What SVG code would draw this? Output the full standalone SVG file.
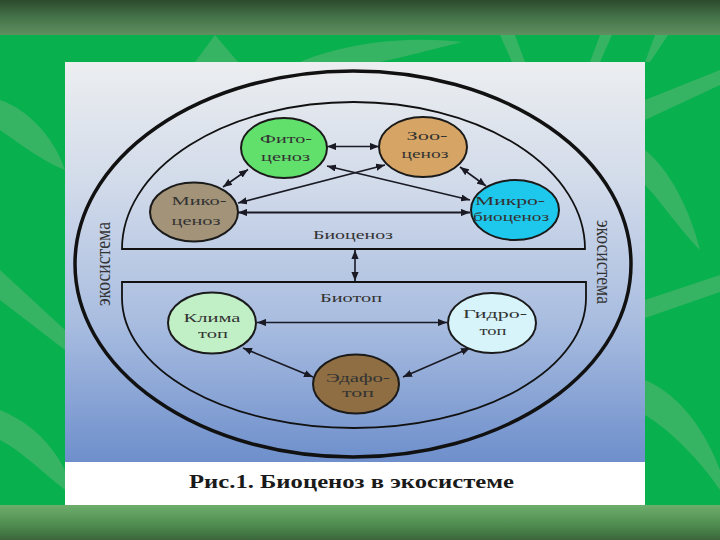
<svg xmlns="http://www.w3.org/2000/svg" width="720" height="540" viewBox="0 0 720 540">
<defs>
  <linearGradient id="topband" x1="0" y1="0" x2="0" y2="1">
    <stop offset="0" stop-color="#2c4a2c"/>
    <stop offset="0.5" stop-color="#46744a"/>
    <stop offset="1" stop-color="#5f8f60"/>
  </linearGradient>
  <linearGradient id="botband" x1="0" y1="0" x2="0" y2="1">
    <stop offset="0" stop-color="#6cae6c"/>
    <stop offset="0.6" stop-color="#4e8a4e"/>
    <stop offset="1" stop-color="#3a663a"/>
  </linearGradient>
  <linearGradient id="panel" x1="0" y1="62" x2="0" y2="462" gradientUnits="userSpaceOnUse">
    <stop offset="0" stop-color="#eceef0"/>
    <stop offset="0.3" stop-color="#d2dbea"/>
    <stop offset="0.65" stop-color="#a9bde0"/>
    <stop offset="1" stop-color="#6e8fcc"/>
  </linearGradient>
  <marker id="ah" viewBox="0 0 10 8" refX="10" refY="4" markerWidth="9" markerHeight="7.2" markerUnits="userSpaceOnUse" orient="auto-start-reverse">
    <path d="M0,0 L10,4 L0,8 z" fill="#1a1a24"/>
  </marker>
</defs>
<style>
  .leaf { fill:#8cbc8c; opacity:0.35; }
  .frame { fill:none; stroke:#111; }
  .node ellipse { stroke:#1a1a1a; stroke-width:2; }
  .lbl { font-family:"Liberation Serif","Times New Roman",serif; font-size:13px; fill:#333; text-anchor:middle; }
  .eco { font-family:"Liberation Serif","Times New Roman",serif; font-size:21px; fill:#333; text-anchor:middle; }
  .conn line { stroke:#1a1a24; stroke-width:1.6; marker-start:url(#ah); marker-end:url(#ah); }
</style>

<!-- background -->
<rect x="0" y="0" width="720" height="540" fill="#08b04e"/>
<g id="leaves">
  <path class="leaf" d="M0,100 C30,110 55,140 65,170 C40,160 15,140 0,130 Z"/>
  <path class="leaf" d="M0,270 L65,330 L65,350 L0,300 Z"/>
  <path class="leaf" d="M0,410 C25,420 50,440 65,470 L65,490 C40,470 20,450 0,440 Z"/>
  <path class="leaf" d="M195,62 L215,35 L238,62 Z"/>
  <path class="leaf" d="M300,62 C340,45 400,35 462,42 C430,50 400,58 380,62 Z"/>
  <path class="leaf" d="M500,35 L515,35 L525,62 L512,62 Z"/>
  <path class="leaf" d="M600,35 L612,35 L600,62 L590,62 Z"/>
  <path class="leaf" d="M655,35 L668,35 L650,62 L645,62 Z"/>
  <path class="leaf" d="M645,100 L720,70 L720,85 L645,120 Z"/>
  <path class="leaf" d="M645,150 C670,170 690,210 700,250 C680,230 660,200 645,185 Z"/>
  <path class="leaf" d="M645,300 L720,275 L720,292 L645,318 Z"/>
  <path class="leaf" d="M645,380 C680,395 705,430 720,470 L720,490 C700,460 670,430 645,415 Z"/>
</g>
<rect x="0" y="0" width="720" height="35" fill="url(#topband)"/>
<rect x="0" y="505" width="720" height="35" fill="url(#botband)"/>

<!-- picture panel -->
<rect x="65" y="62" width="580" height="400" fill="url(#panel)"/>
<rect x="65" y="462" width="580" height="43" fill="#ffffff"/>

<!-- frames -->
<ellipse class="frame" cx="353" cy="264" rx="278" ry="193" stroke-width="3.5"/>
<path class="frame" d="M122,249 A231.5,147 0 0 1 585,249 Z" stroke-width="1.8"/>
<path class="frame" d="M122,282 L586,282 L586,298 A232,130 0 0 1 122,298 Z" stroke-width="1.8"/>

<text class="lbl" x="353" y="239" textLength="80" lengthAdjust="spacingAndGlyphs">Биоценоз</text>
<text class="lbl" x="351" y="302" textLength="62" lengthAdjust="spacingAndGlyphs">Биотоп</text>
<text class="eco" transform="translate(110,264) rotate(-90)" x="0" y="0" textLength="84" lengthAdjust="spacingAndGlyphs">экосистема</text>
<text class="eco" transform="translate(597,262) rotate(90)" x="0" y="0" textLength="84" lengthAdjust="spacingAndGlyphs">экосистема</text>

<!-- connectors -->
<g id="connectors" class="conn">
  <line x1="327" y1="146.5" x2="379" y2="146.5"/>
  <line x1="248" y1="169.5" x2="223" y2="187"/>
  <line x1="327" y1="166" x2="470" y2="200"/>
  <line x1="385" y1="165" x2="238" y2="203"/>
  <line x1="460" y1="167" x2="486" y2="186"/>
  <line x1="238" y1="212.5" x2="470" y2="212.5" style="stroke-width:2.2"/>
  <line x1="355" y1="250" x2="355" y2="281"/>
  <line x1="257" y1="322.5" x2="447" y2="322.5"/>
  <line x1="243" y1="348" x2="313" y2="377"/>
  <line x1="470" y1="348" x2="403" y2="377"/>
</g>

<!-- nodes -->
<g id="fitocenoz" class="node">
  <ellipse cx="284" cy="148" rx="43" ry="30" fill="#62e06c"/>
  <text class="lbl" x="286" y="143" textLength="52" lengthAdjust="spacingAndGlyphs">Фито-</text>
  <text class="lbl" x="285.5" y="160.5" textLength="49" lengthAdjust="spacingAndGlyphs">ценоз</text>
</g>
<g id="zoocenoz" class="node">
  <ellipse cx="423" cy="147" rx="44" ry="30" fill="#d6a464"/>
  <text class="lbl" x="427" y="140" textLength="41" lengthAdjust="spacingAndGlyphs">Зоо-</text>
  <text class="lbl" x="425" y="158" textLength="47" lengthAdjust="spacingAndGlyphs">ценоз</text>
</g>
<g id="mikocenoz" class="node">
  <ellipse cx="194" cy="212" rx="44" ry="29.5" fill="#a39379"/>
  <text class="lbl" x="199" y="205" textLength="55" lengthAdjust="spacingAndGlyphs">Мико-</text>
  <text class="lbl" x="196" y="225" textLength="49" lengthAdjust="spacingAndGlyphs">ценоз</text>
</g>
<g id="mikrobiocenoz" class="node">
  <ellipse cx="515" cy="210" rx="44" ry="30" fill="#1ec8ec"/>
  <text class="lbl" x="510" y="205" textLength="70" lengthAdjust="spacingAndGlyphs">Микро-</text>
  <text class="lbl" x="511" y="221" textLength="76" lengthAdjust="spacingAndGlyphs">биоценоз</text>
</g>
<g id="klimatop" class="node">
  <ellipse cx="212" cy="323" rx="44" ry="30.5" fill="#c2f0c6"/>
  <text class="lbl" x="212" y="322" textLength="57" lengthAdjust="spacingAndGlyphs">Клима</text>
  <text class="lbl" x="213" y="338" textLength="30" lengthAdjust="spacingAndGlyphs">топ</text>
</g>
<g id="gidrotop" class="node">
  <ellipse cx="492" cy="323" rx="44" ry="30" fill="#d6f4fa"/>
  <text class="lbl" x="495" y="318" textLength="64" lengthAdjust="spacingAndGlyphs">Гидро-</text>
  <text class="lbl" x="493" y="335" textLength="27" lengthAdjust="spacingAndGlyphs">топ</text>
</g>
<g id="edafotop" class="node">
  <ellipse cx="356" cy="384" rx="43" ry="29.5" fill="#8e6e42"/>
  <text class="lbl" x="358" y="382" textLength="64" lengthAdjust="spacingAndGlyphs">Эдафо-</text>
  <text class="lbl" x="358" y="397" textLength="32" lengthAdjust="spacingAndGlyphs">топ</text>
</g>

<!-- caption -->
<text x="351.5" y="488" font-family="'Liberation Serif','Times New Roman',serif" font-size="18" font-weight="bold" fill="#1a1a1a" text-anchor="middle" textLength="325" lengthAdjust="spacingAndGlyphs">Рис.1. Биоценоз в экосистеме</text>
</svg>
